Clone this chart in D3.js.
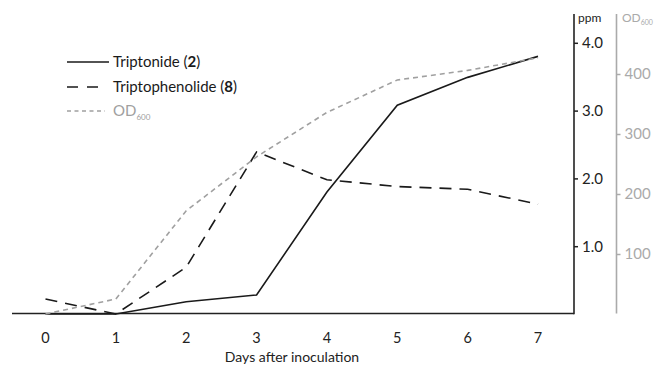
<!DOCTYPE html>
<html>
<head>
<meta charset="utf-8">
<script src="https://cdn.jsdelivr.net/npm/d3@7"></script>
<style>
body { margin: 0; background: #fff; }
text { font-family: Lato, "Open Sans", sans-serif; }
</style>
</head>
<body>
<div id="chart"></div>
<script>
var w = 654;
var h = 367;

// data
var days = [0, 1, 2, 3, 4, 5, 6, 7];
var triptonide = [0, 0, 0.18, 0.28, 1.80, 3.08, 3.49, 3.80];
var triptophenolide = [0.22, 0, 0.69, 2.39, 1.98, 1.88, 1.84, 1.62];
var od600 = [0, 25, 172, 262, 336, 390, 406, 427];
var ppmTicks = [1, 2, 3, 4];
var odTicks = [100, 200, 300, 400];

var svg = d3.select("#chart")
    .append("svg")
    .attr("width", w)
    .attr("height", h);

var x = d3.scaleLinear().domain([0, 7]).range([45.5, 538]);
var yPpm = d3.scaleLinear().domain([0, 4]).range([314, 42.8]);
var yOd = d3.scaleLinear().domain([0, 400]).range([314, 74]);

var base = 313.5;
var ppmX = 574;
var odX = 616.5;

// x axis baseline
svg.append("line")
    .attr("x1", 12).attr("x2", ppmX)
    .attr("y1", base).attr("y2", base)
    .attr("stroke", "#222").attr("stroke-width", 1.6);

svg.selectAll("text.xtick")
    .data(days)
    .enter()
    .append("text")
    .attr("class", "xtick")
    .attr("x", function (d) { return x(d); })
    .attr("y", 343)
    .attr("text-anchor", "middle")
    .attr("font-size", "14.5px")
    .attr("fill", "#222")
    .text(function (d) { return d; });

svg.append("text")
    .attr("x", 292).attr("y", 362)
    .attr("text-anchor", "middle")
    .attr("font-size", "14px")
    .attr("fill", "#222")
    .text("Days after inoculation");

// ppm axis
var ppmAxis = d3.axisRight(yPpm)
    .tickValues(ppmTicks)
    .tickFormat(d3.format(".1f"))
    .tickSize(4)
    .tickPadding(4);

var gp = svg.append("g")
    .attr("transform", "translate(" + ppmX + ",0)")
    .call(ppmAxis);
gp.select(".domain").remove();
gp.selectAll(".tick line").attr("stroke", "#222").attr("stroke-width", 1.5);
gp.selectAll(".tick text")
    .attr("font-size", "15px")
    .attr("fill", "#222")
    .attr("font-family", "Lato, 'Open Sans', sans-serif");
svg.append("line")
    .attr("x1", ppmX).attr("x2", ppmX)
    .attr("y1", 14).attr("y2", base + 0.8)
    .attr("stroke", "#222").attr("stroke-width", 1.6);
svg.append("text")
    .attr("x", 578).attr("y", 22)
    .attr("font-size", "12px")
    .attr("fill", "#222")
    .text("ppm");

// OD axis
var odAxis = d3.axisRight(yOd)
    .tickValues(odTicks)
    .tickSize(4)
    .tickPadding(4);

var go = svg.append("g")
    .attr("transform", "translate(" + odX + ",0)")
    .call(odAxis);
go.select(".domain").remove();
go.selectAll(".tick line").attr("stroke", "#aaa").attr("stroke-width", 1.5);
go.selectAll(".tick text")
    .attr("font-size", "15px")
    .attr("fill", "#aaa")
    .attr("font-family", "Lato, 'Open Sans', sans-serif");
svg.append("line")
    .attr("x1", odX).attr("x2", odX)
    .attr("y1", 14).attr("y2", base)
    .attr("stroke", "#aaa").attr("stroke-width", 1.6);
var odLab = svg.append("text")
    .attr("x", 622).attr("y", 22)
    .attr("font-size", "12px")
    .attr("fill", "#aaa");
odLab.append("tspan").text("OD");
odLab.append("tspan").attr("font-size", "7px").attr("dy", 3).text("600");

// series
var series = [
    { name: "triptonide", values: triptonide, y: yPpm, color: "#1a1a1a", dash: null, width: 1.6 },
    { name: "triptophenolide", values: triptophenolide, y: yPpm, color: "#1a1a1a", dash: "12,8", width: 1.6 },
    { name: "od", values: od600, y: yOd, color: "#a0a0a0", dash: "5,4", width: 1.6 }
];

series.forEach(function (s) {
    var line = d3.line()
        .x(function (d, i) { return x(days[i]); })
        .y(function (d) { return s.y(d); });
    svg.append("path")
        .datum(s.values)
        .attr("d", line)
        .attr("fill", "none")
        .attr("stroke", s.color)
        .attr("stroke-width", s.width)
        .attr("stroke-dasharray", s.dash);
});

// legend
var legend = [
    { label: "Triptonide (", bold: "2", end: ")", color: "#1a1a1a", dash: null, x2: 109, y: 62 },
    { label: "Triptophenolide (", bold: "8", end: ")", color: "#1a1a1a", dash: "11,9", x2: 99, y: 87 },
    { label: "OD", sub: "600", color: "#a0a0a0", dash: "4,3.5", x2: 105, y: 111 }
];

legend.forEach(function (l) {
    svg.append("line")
        .attr("x1", 67).attr("x2", l.x2)
        .attr("y1", l.y).attr("y2", l.y)
        .attr("stroke", l.color)
        .attr("stroke-width", 1.7)
        .attr("stroke-dasharray", l.dash);
    var t = svg.append("text")
        .attr("x", 113).attr("y", l.y + 5)
        .attr("font-size", "15px")
        .attr("fill", l.sub ? "#a0a0a0" : "#1a1a1a");
    t.append("tspan").text(l.label);
    if (l.bold) {
        t.append("tspan").attr("font-weight", "bold").text(l.bold);
        t.append("tspan").text(l.end);
    }
    if (l.sub) {
        t.append("tspan").attr("font-size", "8px").attr("dy", 4).text(l.sub);
    }
});
</script>
</body>
</html>
